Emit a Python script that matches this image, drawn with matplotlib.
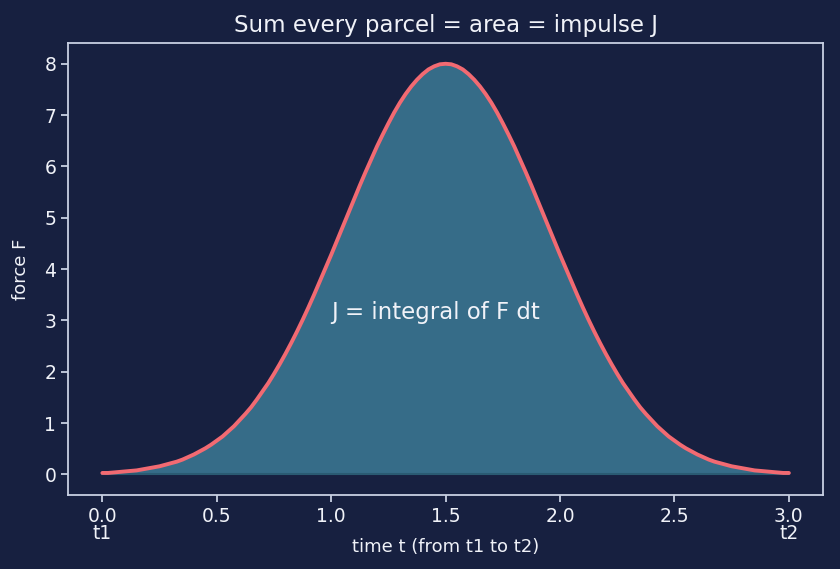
import numpy as np
import matplotlib.pyplot as plt

# force F, every 0.025 from t=0 up to the peak at t=1.5
t = [i * 0.025 for i in range(121)]
half = [0.03, 0.03, 0.04, 0.05, 0.06, 0.07, 0.08, 0.10, 0.12, 0.14,
        0.16, 0.19, 0.22, 0.25, 0.29, 0.34, 0.39, 0.45, 0.51, 0.58,
        0.66, 0.74, 0.84, 0.94, 1.06, 1.18, 1.31, 1.46, 1.62, 1.78,
        1.96, 2.15, 2.35, 2.56, 2.78, 3.01, 3.25, 3.50, 3.76, 4.02,
        4.28, 4.55, 4.82, 5.09, 5.36, 5.63, 5.89, 6.14, 6.39, 6.62,
        6.84, 7.05, 7.24, 7.41, 7.56, 7.69, 7.80, 7.89, 7.95, 7.99,
        8.00]
force = half + half[-2::-1]  # symmetric pulse

tick_pos = [0.0, 0.5, 1.0, 1.5, 2.0, 2.5, 3.0]
tick_lab = ['0.0\nt1', '0.5', '1.0', '1.5', '2.0', '2.5', '3.0\nt2']

bg = '#172040'
fg = '#f0f2f8'
spine = '#c8d0e2'

fig = plt.figure(figsize=(8.4, 5.69), dpi=100, facecolor=bg)
ax = fig.add_axes([0.081, 0.13, 0.899, 0.794])
ax.set_facecolor(bg)

ax.fill_between(t, 0, force, color='#3a7591', alpha=0.9, linewidth=0)
ax.plot([0, 3], [0, 0], color='#2a5a72', linewidth=1.5)
ax.plot(t, force, color='#f26a72', linewidth=2.8, solid_capstyle='round')

ax.text(1.0, 3.15, 'J = integral of F dt', color=fg, fontsize=16.5,
        ha='left', va='center')

ax.set_xlim(-0.15, 3.15)
ax.set_ylim(-0.4, 8.4)
ax.set_xticks(tick_pos)
ax.set_xticklabels(tick_lab, linespacing=0.9)
ax.set_yticks(range(0, 9))

ax.set_title('Sum every parcel = area = impulse J', color=fg, fontsize=16.5, pad=8)
ax.set_xlabel('time t (from t1 to t2)', color=fg, fontsize=13, labelpad=-3.5)
ax.set_ylabel('force F', color=fg, fontsize=13, labelpad=10)

ax.tick_params(colors=spine, labelcolor=fg, labelsize=13.5, length=5, width=1.3)
for s in ax.spines.values():
    s.set_color(spine)
    s.set_linewidth(1.3)

fig.savefig('out.png', dpi=100, facecolor=bg)
